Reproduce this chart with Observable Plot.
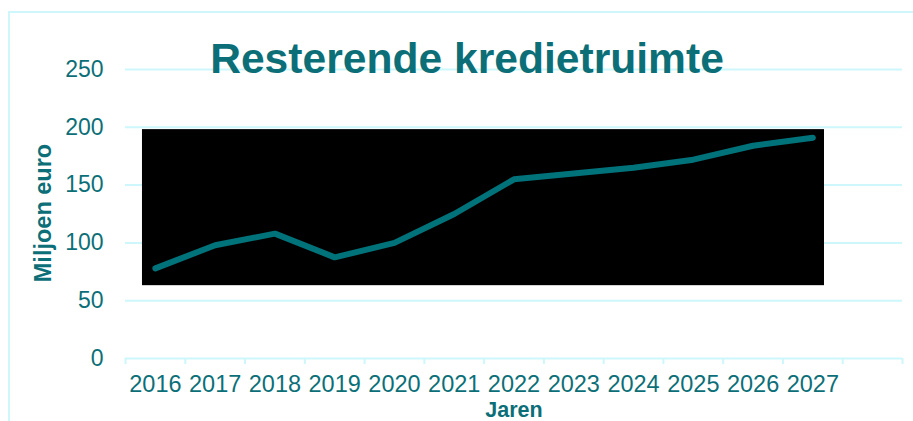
<!DOCTYPE html>
<html>
<head>
<meta charset="utf-8">
<script src="https://cdn.jsdelivr.net/npm/d3@7"></script>
<script src="https://cdn.jsdelivr.net/npm/@observablehq/plot@0.6"></script>
<style>
  html, body { margin: 0; padding: 0; background: #fff; }
  #wrap { position: relative; width: 913px; height: 421px; overflow: hidden; }
  #frame { position: absolute; left: 8px; top: 11px; width: 940px; height: 440px; border: 2px solid #cdf7fb; box-sizing: border-box; }
  #chart { position: absolute; left: 0; top: 0; }
</style>
</head>
<body>
<div id="wrap"><div id="frame"></div><div id="chart"></div></div>
<script>
const title = "Resterende kredietruimte";
const yLabel = "Miljoen euro";
const xLabel = "Jaren";
const years = [2016, 2017, 2018, 2019, 2020, 2021, 2022, 2023, 2024, 2025, 2026, 2027];
const values = [78, 98, 108, 87.5, 100, 125, 155, 160, 165, 172, 184, 191];
const yTicks = [0, 50, 100, 150, 200, 250];
const bandEdges = [2015.5, 2016.5, 2017.5, 2018.5, 2019.5, 2020.5, 2021.5, 2022.5, 2023.5, 2024.5, 2025.5, 2026.5, 2027.5, 2028.5];
// redacted (black) region, in data units
const maskX = [2015.784, 2027.195];
const maskY = [63, 198];

const data = years.map((year, i) => ({year, value: values[i]}));
const teal = "#0c6f78";
const lineColor = "#00727a";
const grid = "#cdf7fb";

const chart = Plot.plot({
  width: 913,
  height: 421,
  marginLeft: 125,
  marginRight: 11,
  marginTop: 69,
  marginBottom: 63,
  style: {fontFamily: "Liberation Sans, Arial, sans-serif", background: "transparent", overflow: "visible"},
  x: {type: "linear", domain: [bandEdges[0], bandEdges[bandEdges.length - 1]]},
  y: {domain: [0, 250]},
  marks: [
    Plot.gridY(yTicks, {stroke: grid, strokeOpacity: 1, strokeWidth: 2}),
    Plot.axisY(yTicks, {tickSize: 0, tickPadding: 22, fontSize: 23, fill: teal, label: null}),
    Plot.axisX(bandEdges, {tickSize: 6, stroke: grid, strokeWidth: 2, tickFormat: () => "", label: null}),
    Plot.axisX(years, {tickSize: 0, tickPadding: 17, fontSize: 23.5, fill: teal, tickFormat: d => String(d), label: null}),
    Plot.rect([{x1: maskX[0], x2: maskX[1], y1: maskY[0], y2: maskY[1]}], {x1: "x1", x2: "x2", y1: "y1", y2: "y2", fill: "black"}),
    Plot.line(data, {x: "year", y: "value", stroke: lineColor, strokeWidth: 6, strokeLinecap: "round", strokeLinejoin: "round"}),
    Plot.text([title], {frameAnchor: "top", dx: -47, dy: 3, lineAnchor: "bottom", fontSize: 42.6, fontWeight: "bold", fill: teal}),
    Plot.text([yLabel], {frameAnchor: "left", textAnchor: "middle", dx: -82, dy: -1, rotate: -90, fontSize: 23.5, fontWeight: "bold", fill: teal}),
    Plot.text([xLabel], {frameAnchor: "bottom", dy: 58, lineAnchor: "bottom", fontSize: 21.5, fontWeight: "bold", fill: teal})
  ]
});
document.getElementById("chart").appendChild(chart);
</script>
</body>
</html>
